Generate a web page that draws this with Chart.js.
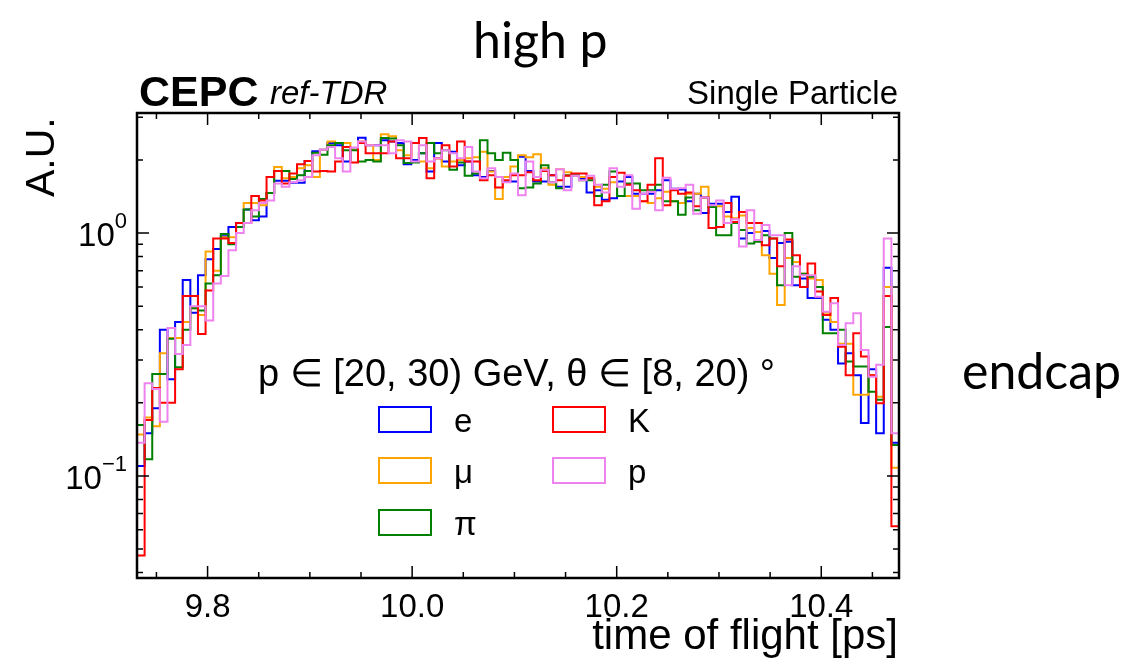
<!DOCTYPE html>
<html>
<head>
    <title>Time of flight - high p endcap</title>
    <script src="https://cdn.jsdelivr.net/npm/chart.js"></script>
    <style>
        body {
            margin: 0;
            background-color: #ffffff;
        }
        #wrap {
            position: relative;
            width: 1138px;
            height: 665px;
            overflow: hidden;
        }
        #wrap canvas {
            position: absolute;
            left: 0;
            top: 0;
        }
        .txt {
            position: absolute;
            white-space: nowrap;
            color: #000;
            font-family: 'Liberation Sans', Arial, sans-serif;
            line-height: 1;
        }
        .slide {
            font-family: Lato, 'Open Sans', sans-serif;
            font-size: 50px;
        }
        .legbox {
            position: absolute;
            width: 54px;
            height: 27px;
            border: 2px solid;
            box-sizing: border-box;
        }
    </style>
</head>
<body>
<div id="wrap">
    <canvas id="tofChart" width="1138" height="665"></canvas>

    <div class="txt slide" style="left:473px; top:14px;">high p</div>
    <div class="txt slide" style="left:962px; top:345px;">endcap</div>

    <div class="txt" style="left:139px; top:70px; font-size:43px; font-weight:bold;">CEPC</div>
    <div class="txt" style="left:270px; top:76px; font-size:33px; font-style:italic;">ref-TDR</div>
    <div class="txt" style="right:240px; top:76px; font-size:33px;">Single Particle</div>
    <div class="txt" style="right:240px; top:614px; font-size:42px;">time of flight [ps]</div>
    <div class="txt" style="left:20px; top:197px; font-size:41px; transform:rotate(-90deg); transform-origin:left top;">A.U.</div>

    <div class="txt" style="left:258px; top:354px; font-size:38px;">p ∈ [20, 30) GeV, θ ∈ [8, 20) °</div>
    <div id="legend"></div>
</div>

<script>
    // histogram range (ps) and 100 equal bins
    var xMin = 9.731, xMax = 10.476, nBins = 100;

    var particles = ['e', 'μ', 'π', 'K', 'p'];
    var colors = ['#0000ff', '#ffa500', '#008000', '#ff0000', '#ee82ee'];

    var eCounts = [0.11, 0.15, 0.19, 0.40, 0.25, 0.43, 0.64, 0.47, 0.67, 0.78,
        0.86, 0.97, 1.06, 1.10, 1.25, 1.13, 1.17, 1.46, 1.64, 1.64,
        1.61, 1.61, 1.98, 2.17, 2.20, 2.35, 2.30, 1.97, 2.20, 2.47,
        2.30, 2.30, 2.41, 2.38, 2.35, 1.92, 2.00, 2.13, 1.79, 2.35,
        1.97, 2.16, 1.90, 1.97, 1.73, 1.70, 1.80, 1.70, 1.63, 1.63,
        2.06, 1.80, 1.63, 1.63, 1.73, 1.55, 1.55, 1.73, 1.67, 1.47,
        1.50, 1.37, 1.39, 1.63, 1.70, 1.45, 1.45, 1.45, 1.50, 1.65,
        1.52, 1.51, 1.35, 1.45, 1.21, 1.32, 1.32, 1.22, 1.41, 0.95,
        1.00, 1.01, 1.02, 0.79, 0.91, 0.92, 0.61, 0.65, 0.54, 0.54,
        0.44, 0.40, 0.29, 0.32, 0.26, 0.165, 0.275, 0.15, 0.72, 0.137];

    var muCounts = [0.148, 0.174, 0.16, 0.32, 0.37, 0.37, 0.43, 0.49, 0.46, 0.84,
        0.70, 0.96, 0.96, 1.06, 1.33, 1.33, 1.30, 1.46, 1.87, 1.68,
        1.70, 1.85, 1.90, 1.70, 2.20, 2.38, 2.35, 2.35, 2.20, 2.38,
        2.30, 2.00, 2.55, 2.50, 2.19, 2.09, 2.35, 1.97, 1.85, 2.03,
        1.88, 1.97, 2.00, 2.03, 2.05, 2.16, 1.79, 1.38, 1.70, 1.88,
        2.09, 2.05, 2.11, 1.85, 1.58, 1.83, 1.78, 1.73, 1.70, 1.68,
        1.55, 1.52, 1.62, 1.42, 1.42, 1.42, 1.35, 1.33, 1.39, 1.48,
        1.35, 1.33, 1.45, 1.45, 1.55, 1.28, 1.29, 1.17, 1.15, 1.18,
        1.05, 1.01, 0.81, 0.68, 0.505, 0.79, 0.76, 0.68, 0.65, 0.64,
        0.47, 0.43, 0.35, 0.35, 0.216, 0.216, 0.26, 0.212, 0.60, 0.108];

    var piCounts = [0.162, 0.117, 0.263, 0.263, 0.367, 0.28, 0.40, 0.49, 0.48, 0.62,
        0.67, 0.99, 0.90, 1.06, 1.25, 1.17, 1.38, 1.46, 1.80, 1.80,
        1.67, 1.73, 1.80, 2.14, 2.10, 2.30, 2.35, 2.19, 2.19, 1.97,
        2.00, 1.97, 2.46, 2.45, 2.30, 1.94, 1.95, 2.13, 2.35, 2.13,
        2.19, 1.82, 1.95, 1.72, 1.76, 2.41, 2.13, 2.00, 2.14, 2.00,
        1.53, 1.54, 1.60, 1.90, 1.62, 1.53, 1.73, 1.73, 1.65, 1.65,
        1.42, 1.58, 1.79, 1.42, 1.60, 1.60, 1.50, 1.50, 1.58, 1.35,
        1.35, 1.19, 1.40, 1.24, 1.40, 1.28, 0.98, 0.98, 1.10, 1.03,
        0.906, 0.92, 0.98, 0.95, 0.61, 1.00, 0.66, 0.68, 0.66, 0.60,
        0.387, 0.387, 0.40, 0.296, 0.282, 0.282, 0.222, 0.206, 0.41, 0.134];

    var kCounts = [0.047, 0.17, 0.23, 0.20, 0.20, 0.275, 0.55, 0.55, 0.384, 0.58,
        0.95, 0.95, 0.91, 1.10, 1.10, 1.42, 1.36, 1.70, 1.80, 1.60,
        1.76, 1.92, 1.98, 1.79, 1.80, 1.79, 1.97, 2.26, 1.95, 2.35,
        2.13, 2.13, 2.13, 2.38, 2.03, 2.03, 2.35, 2.46, 1.68, 2.03,
        2.30, 1.88, 2.38, 1.97, 1.97, 1.65, 1.73, 1.54, 1.65, 1.73,
        1.73, 1.78, 1.65, 1.80, 1.73, 1.65, 1.72, 1.76, 1.76, 1.68,
        1.30, 1.35, 1.70, 1.77, 1.58, 1.50, 1.35, 1.58, 2.03, 1.30,
        1.50, 1.45, 1.47, 1.29, 1.40, 1.05, 1.06, 1.33, 1.11, 1.22,
        1.10, 1.10, 0.89, 0.95, 0.73, 0.94, 0.81, 0.60, 0.75, 0.575,
        0.46, 0.54, 0.34, 0.26, 0.387, 0.31, 0.26, 0.199, 0.55, 0.062];

    var pCounts = [0.137, 0.241, 0.228, 0.167, 0.406, 0.318, 0.346, 0.50, 0.50, 0.436,
        0.62, 0.665, 0.85, 1.00, 1.10, 1.24, 1.33, 1.36, 1.60, 1.55,
        1.62, 1.65, 1.70, 2.09, 2.20, 2.26, 2.03, 1.79, 2.25, 2.38,
        2.30, 2.30, 2.30, 2.13, 2.41, 2.38, 1.97, 2.30, 1.97, 2.03,
        2.19, 2.13, 2.03, 2.26, 1.79, 1.68, 1.85, 1.70, 1.62, 1.76,
        1.43, 1.97, 1.70, 1.82, 1.62, 1.83, 1.50, 1.72, 1.65, 1.72,
        1.58, 1.47, 1.85, 1.55, 1.73, 1.26, 1.45, 1.48, 1.24, 1.69,
        1.52, 1.53, 1.58, 1.20, 1.40, 1.30, 1.36, 1.10, 1.14, 0.88,
        1.24, 0.936, 1.08, 0.98, 0.98, 0.61, 0.73, 0.67, 0.67, 0.547,
        0.474, 0.514, 0.346, 0.425, 0.467, 0.33, 0.256, 0.287, 0.95, 0.15];

    var xTickLabels = [9.8, 10.0, 10.2, 10.4];
    var xMinorTicks = [9.75, 9.85, 9.9, 9.95, 10.05, 10.1, 10.15, 10.25, 10.3, 10.35, 10.45];
    var yMajorTicks = [0.1, 1];
    var yTickLabels = [['10', '−1'], ['10', '0']];
    var yMinorTicks = [0.04, 0.05, 0.06, 0.07, 0.08, 0.09, 0.2, 0.3, 0.4, 0.5, 0.6, 0.7, 0.8, 0.9, 2, 3];
    var yMin = 0.038, yMax = 3.12;

    var allCounts = [eCounts, muCounts, piCounts, kCounts, pCounts];

    // bin edges -> step points (value holds from left edge to next edge)
    function toSteps(counts) {
        var w = (xMax - xMin) / nBins;
        var pts = counts.map(function(c, i) { return { x: xMin + i * w, y: c }; });
        pts.push({ x: xMax, y: counts[counts.length - 1] });
        return pts;
    }

    // legend, two columns like the original
    var legendPos = [[378, 406], [378, 457], [378, 509], [552, 406], [552, 457]];
    var legendHtml = '';
    particles.forEach(function(name, i) {
        legendHtml += '<div class="legbox" style="left:' + legendPos[i][0] + 'px; top:' + legendPos[i][1] + 'px; border-color:' + colors[i] + ';"></div>';
        legendHtml += '<div class="txt" style="left:' + (legendPos[i][0] + 76) + 'px; top:' + (legendPos[i][1] - 2) + 'px; font-size:33px;">' + name + '</div>';
    });
    document.getElementById('legend').innerHTML = legendHtml;

    // inward ticks on all four sides + box + y labels
    var framePlugin = {
        id: 'framePlugin',
        afterDraw: function(chart) {
            var ctx = chart.ctx;
            var a = chart.chartArea;
            var xs = chart.scales.x, ys = chart.scales.y;
            ctx.save();
            ctx.strokeStyle = '#000';
            ctx.lineWidth = 1.5;
            function xTick(v, len) {
                var px = xs.getPixelForValue(v);
                ctx.beginPath();
                ctx.moveTo(px, a.bottom); ctx.lineTo(px, a.bottom - len);
                ctx.moveTo(px, a.top); ctx.lineTo(px, a.top + len);
                ctx.stroke();
            }
            function yTick(v, len) {
                var py = ys.getPixelForValue(v);
                ctx.beginPath();
                ctx.moveTo(a.left, py); ctx.lineTo(a.left + len, py);
                ctx.moveTo(a.right, py); ctx.lineTo(a.right - len, py);
                ctx.stroke();
            }
            xTickLabels.forEach(function(v) { xTick(v, 12); });
            xMinorTicks.forEach(function(v) { xTick(v, 6); });
            yMajorTicks.forEach(function(v) { yTick(v, 12); });
            yMinorTicks.forEach(function(v) { yTick(v, 6); });

            ctx.lineWidth = 2.5;
            ctx.strokeRect(a.left, a.top, a.right - a.left, a.bottom - a.top);

            ctx.fillStyle = '#000';
            ctx.textBaseline = 'alphabetic';
            yMajorTicks.forEach(function(v, i) {
                var py = ys.getPixelForValue(v);
                var base = yTickLabels[i][0], exp = yTickLabels[i][1];
                ctx.font = '22px "Liberation Sans", Arial, sans-serif';
                var ew = ctx.measureText(exp).width;
                ctx.font = '33px "Liberation Sans", Arial, sans-serif';
                var bw = ctx.measureText(base).width;
                var right = a.left - 10;
                ctx.fillText(base, right - ew - bw, py + 13);
                ctx.font = '22px "Liberation Sans", Arial, sans-serif';
                ctx.fillText(exp, right - ew, py - 5);
            });
            ctx.restore();
        }
    };

    var ctx = document.getElementById('tofChart').getContext('2d');
    var tofChart = new Chart(ctx, {
        type: 'line',
        plugins: [framePlugin],
        data: {
            datasets: allCounts.map(function(counts, i) {
                return {
                    label: particles[i],
                    data: toSteps(counts),
                    borderColor: colors[i],
                    borderWidth: 2,
                    stepped: 'before',
                    pointRadius: 0,
                    fill: false,
                    order: 5 - i
                };
            })
        },
        options: {
            responsive: false,
            animation: false,
            devicePixelRatio: 1,
            layout: { padding: { left: 0, top: 113, right: 239, bottom: 0 } },
            plugins: {
                legend: { display: false },
                tooltip: { enabled: false }
            },
            scales: {
                x: {
                    type: 'linear',
                    min: xMin,
                    max: xMax,
                    grid: { display: false },
                    border: { display: false },
                    afterBuildTicks: function(scale) {
                        scale.ticks = xTickLabels.map(function(v) { return { value: v }; });
                    },
                    afterFit: function(scale) { scale.height = 87; },
                    ticks: {
                        autoSkip: false,
                        maxRotation: 0,
                        padding: 2,
                        color: '#000',
                        font: { family: "'Liberation Sans', Arial", size: 33 },
                        callback: function(v) { return v.toFixed(1); }
                    }
                },
                y: {
                    type: 'logarithmic',
                    min: yMin,
                    max: yMax,
                    grid: { display: false },
                    border: { display: false },
                    ticks: { display: false },
                    afterFit: function(scale) { scale.width = 137; }
                }
            }
        }
    });
</script>
</body>
</html>
